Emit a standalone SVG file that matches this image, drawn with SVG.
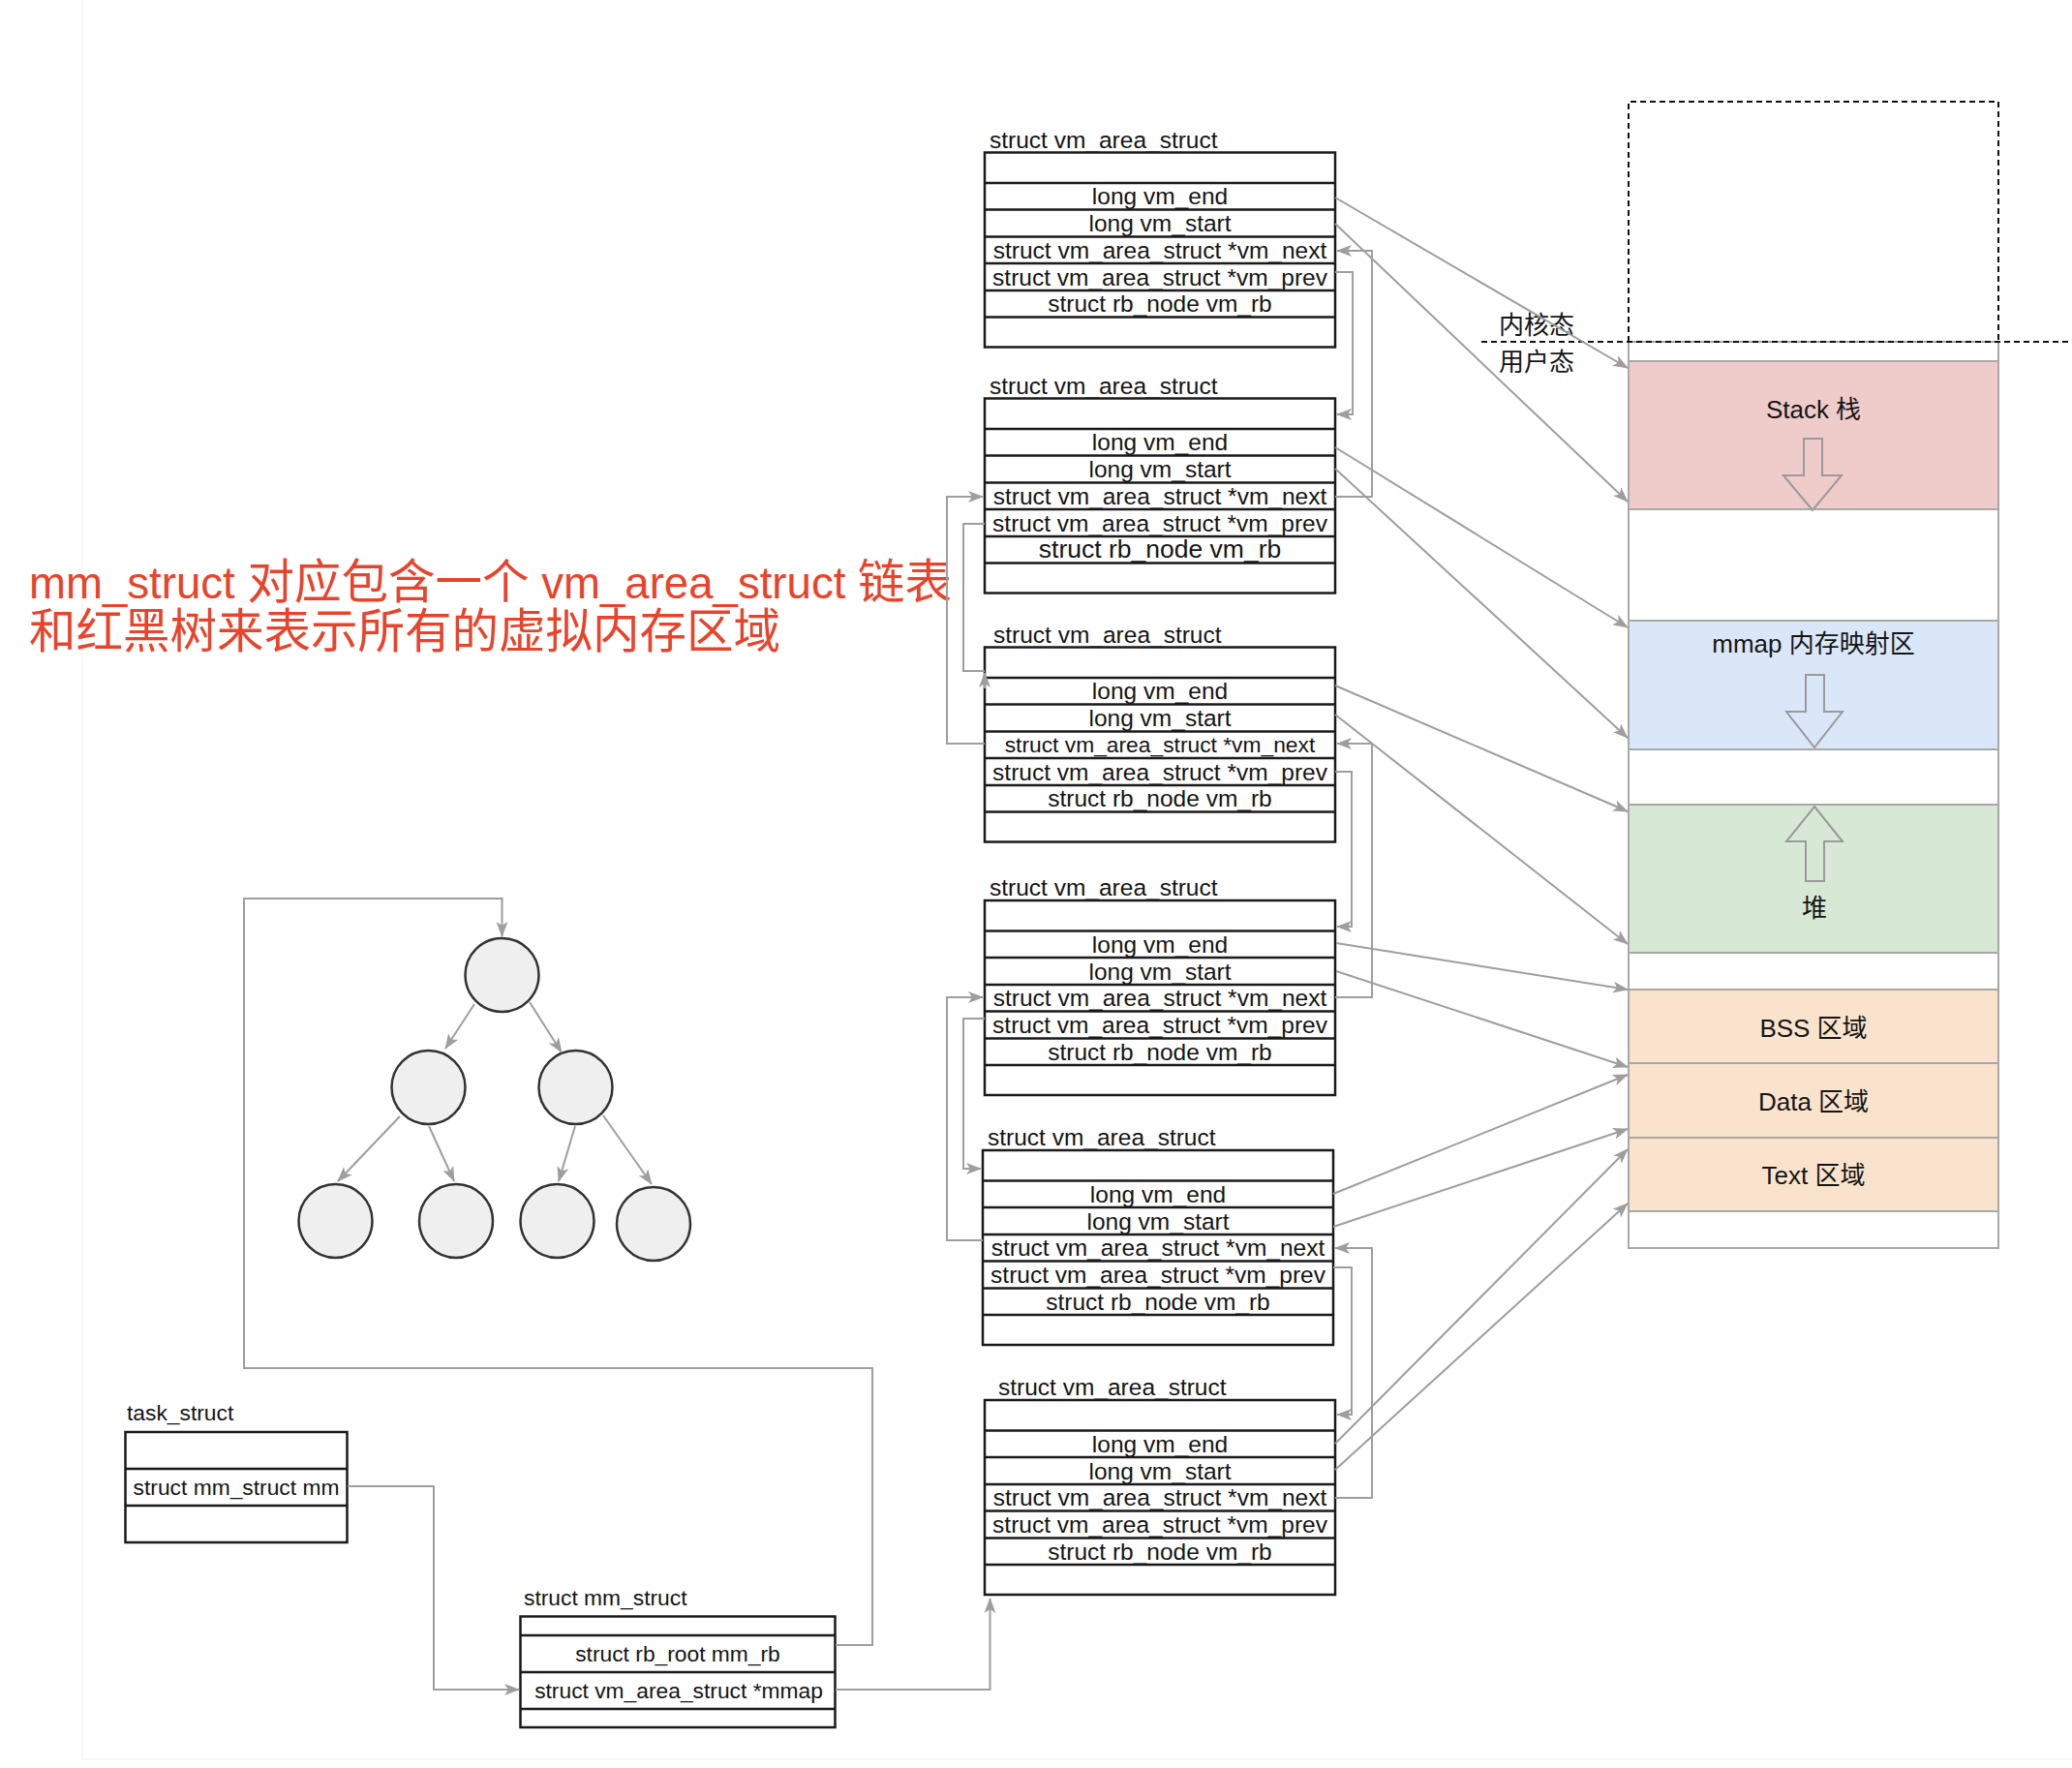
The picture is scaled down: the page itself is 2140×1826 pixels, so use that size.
<svg xmlns="http://www.w3.org/2000/svg" width="2140" height="1826" viewBox="0 0 2140 1826">
<style>
text{font-family:"Liberation Sans",Arial,"Noto Sans CJK SC",sans-serif;fill:#151515}
.t{font-size:24.5px}
.r{font-size:24.5px;text-anchor:middle}
.s{font-size:22.8px}
.sm{font-size:22.8px;text-anchor:middle}
.lbl{font-size:26px;text-anchor:middle}
.cjk{font-size:26px}
.box{fill:#fff;stroke:#1a1a1a;stroke-width:2.5}
.sep{stroke:#1a1a1a;stroke-width:2.5;fill:none}
.conn{fill:none;stroke:#9e9e9e;stroke-width:2;marker-end:url(#arr)}
.node{fill:#efefef;stroke:#333;stroke-width:2.5}
.seg{stroke:#a8a8a8;stroke-width:2}
.harrow{stroke:#9a9a9a;stroke-width:2}
.red{font-size:48.5px;fill:#e9432b}
.lat{font-size:45.6px}
</style>
<defs>
<marker id="arr" viewBox="0 0 16 12" markerWidth="16" markerHeight="12" refX="15" refY="6" orient="auto" markerUnits="userSpaceOnUse">
<path d="M0,0 L16,6 L0,12 L4,6 Z" fill="#9e9e9e"/>
</marker>
</defs>
<rect width="2140" height="1826" fill="#fff"/>
<line x1="85" y1="0" x2="85" y2="1817" stroke="#f3f3f3" stroke-width="1.5"/>
<line x1="85" y1="1817" x2="2140" y2="1817" stroke="#f3f3f3" stroke-width="1.5"/>

<g id="caption">
<text class="red" x="30" y="618"><tspan class="lat">mm_struct </tspan>对应包含一个<tspan class="lat"> vm_area_struct </tspan>链表</text>
<text class="red" x="30" y="669">和红黑树来表示所有的虚拟内存区域</text>
</g>

<g id="memory-layout">
<rect x="1682" y="353" width="382" height="936" fill="#fff" stroke="#a8a8a8" stroke-width="2"/>
<g id="stack"><rect class="seg" x="1682" y="373" width="382" height="153" fill="#efcbca"/>
<text class="lbl" x="1873" y="432">Stack 栈</text>
<polygon class="harrow" fill="#efcbca" points="1863,453 1882,453 1882,491 1902,491 1872,527 1842,491 1863,491"/></g>
<g id="mmap"><rect class="seg" x="1682" y="641" width="382" height="133" fill="#dae7f9"/>
<text class="lbl" x="1873" y="674">mmap 内存映射区</text>
<polygon class="harrow" fill="#dae7f9" points="1865,697 1884,697 1884,735 1903,735 1874,772 1845,735 1865,735"/></g>
<g id="heap"><rect class="seg" x="1682" y="831" width="382" height="153" fill="#d7e8d5"/>
<polygon class="harrow" fill="#d7e8d5" points="1874,833 1903,869 1884,869 1884,910 1865,910 1865,869 1845,869"/>
<text class="lbl" x="1874" y="947">堆</text></g>
<g id="bss"><rect class="seg" x="1682" y="1022" width="382" height="76" fill="#fae3cd"/>
<text class="lbl" x="1873" y="1071">BSS 区域</text></g>
<g id="data"><rect class="seg" x="1682" y="1098" width="382" height="77" fill="#fae3cd"/>
<text class="lbl" x="1873" y="1147">Data 区域</text></g>
<g id="textseg"><rect class="seg" x="1682" y="1175" width="382" height="76" fill="#fae3cd"/>
<text class="lbl" x="1873" y="1223">Text 区域</text></g>
<g id="kernel">
<path d="M1682,353 V105 H2064 V353" fill="none" stroke="#111" stroke-width="2" stroke-dasharray="6,4"/>
<line x1="1530" y1="353" x2="2140" y2="353" stroke="#111" stroke-width="2" stroke-dasharray="6,4"/>
<text class="cjk" x="1548" y="345">内核态</text>
<text class="cjk" x="1548" y="383">用户态</text>
</g>
</g>

<g id="vma1">
<text class="t" x="1022" y="152.5">struct vm_area_struct</text>
<rect class="box" x="1017" y="157.5" width="362" height="201"/>
<path class="sep" d="M1017,189H1379M1017,216.5H1379M1017,244.5H1379M1017,272H1379M1017,300H1379M1017,327.5H1379"/>
<text class="r" x="1198" y="211">long vm_end</text>
<text class="r" x="1198" y="239">long vm_start</text>
<text class="r" x="1198" y="266.5">struct vm_area_struct *vm_next</text>
<text class="r" x="1198" y="294.5">struct vm_area_struct *vm_prev</text>
<text class="r" x="1198" y="322">struct rb_node vm_rb</text>
</g>
<g id="vma2">
<text class="t" x="1022" y="406.5">struct vm_area_struct</text>
<rect class="box" x="1017" y="411.5" width="362" height="201"/>
<path class="sep" d="M1017,443H1379M1017,470.5H1379M1017,498.5H1379M1017,526H1379M1017,554H1379M1017,581.5H1379"/>
<text class="r" x="1198" y="465">long vm_end</text>
<text class="r" x="1198" y="493">long vm_start</text>
<text class="r" x="1198" y="520.5">struct vm_area_struct *vm_next</text>
<text class="r" x="1198" y="548.5">struct vm_area_struct *vm_prev</text>
<text class="r" x="1198" y="576" style="font-size:26.5px">struct rb_node vm_rb</text>
</g>
<g id="vma3">
<text class="t" x="1026" y="663.5">struct vm_area_struct</text>
<rect class="box" x="1017" y="668.5" width="362" height="201"/>
<path class="sep" d="M1017,700H1379M1017,727.5H1379M1017,755.5H1379M1017,783H1379M1017,811H1379M1017,838.5H1379"/>
<text class="r" x="1198" y="722">long vm_end</text>
<text class="r" x="1198" y="750">long vm_start</text>
<text class="r" x="1198" y="777" style="font-size:22.8px">struct vm_area_struct *vm_next</text>
<text class="r" x="1198" y="805.5">struct vm_area_struct *vm_prev</text>
<text class="r" x="1198" y="833">struct rb_node vm_rb</text>
</g>
<g id="vma4">
<text class="t" x="1022" y="925">struct vm_area_struct</text>
<rect class="box" x="1017" y="930" width="362" height="201"/>
<path class="sep" d="M1017,961.5H1379M1017,989H1379M1017,1017H1379M1017,1044.5H1379M1017,1072.5H1379M1017,1100H1379"/>
<text class="r" x="1198" y="983.5">long vm_end</text>
<text class="r" x="1198" y="1011.5">long vm_start</text>
<text class="r" x="1198" y="1039">struct vm_area_struct *vm_next</text>
<text class="r" x="1198" y="1067">struct vm_area_struct *vm_prev</text>
<text class="r" x="1198" y="1094.5">struct rb_node vm_rb</text>
</g>
<g id="vma5">
<text class="t" x="1020" y="1183">struct vm_area_struct</text>
<rect class="box" x="1015" y="1188" width="362" height="201"/>
<path class="sep" d="M1015,1219.5H1377M1015,1247H1377M1015,1275H1377M1015,1302.5H1377M1015,1330.5H1377M1015,1358H1377"/>
<text class="r" x="1196" y="1241.5">long vm_end</text>
<text class="r" x="1196" y="1269.5">long vm_start</text>
<text class="r" x="1196" y="1297">struct vm_area_struct *vm_next</text>
<text class="r" x="1196" y="1325">struct vm_area_struct *vm_prev</text>
<text class="r" x="1196" y="1352.5">struct rb_node vm_rb</text>
</g>
<g id="vma6">
<text class="t" x="1031" y="1441">struct vm_area_struct</text>
<rect class="box" x="1017" y="1446" width="362" height="201"/>
<path class="sep" d="M1017,1477.5H1379M1017,1505H1379M1017,1533H1379M1017,1560.5H1379M1017,1588.5H1379M1017,1616H1379"/>
<text class="r" x="1198" y="1499.5">long vm_end</text>
<text class="r" x="1198" y="1527.5">long vm_start</text>
<text class="r" x="1198" y="1555">struct vm_area_struct *vm_next</text>
<text class="r" x="1198" y="1583">struct vm_area_struct *vm_prev</text>
<text class="r" x="1198" y="1610.5">struct rb_node vm_rb</text>
</g>

<g id="task_struct">
<text class="s" x="131" y="1467">task_struct</text>
<rect class="box" x="129.5" y="1479" width="229" height="114"/>
<path class="sep" d="M129.5,1517H358.5M129.5,1555H358.5"/>
<text class="sm" x="244" y="1544">struct mm_struct mm</text>
</g>
<g id="mm_struct">
<text class="s" x="541" y="1658">struct mm_struct</text>
<rect class="box" x="537.5" y="1669.5" width="325" height="114.5"/>
<path class="sep" d="M537.5,1689H862.5M537.5,1727H862.5M537.5,1765H862.5"/>
<text class="sm" x="700" y="1716">struct rb_root mm_rb</text>
<text class="sm" x="701" y="1754">struct vm_area_struct *mmap</text>
</g>

<g id="rbtree">
<circle id="rb-root" class="node" cx="518.5" cy="1007" r="38"/>
<circle id="rb-l" class="node" cx="442.5" cy="1123" r="38"/>
<circle id="rb-r" class="node" cx="594.5" cy="1123" r="38"/>
<circle id="rb-ll" class="node" cx="346.5" cy="1261" r="38"/>
<circle id="rb-lr" class="node" cx="471" cy="1261" r="38"/>
<circle id="rb-rl" class="node" cx="575.5" cy="1261" r="38"/>
<circle id="rb-rr" class="node" cx="675" cy="1264" r="38"/>
</g>

<g id="connectors">
<path class="conn" d="M490,1037 L460,1083"/>
<path class="conn" d="M547,1035 L580,1087"/>
<path class="conn" d="M413,1153 L349,1220"/>
<path class="conn" d="M443,1163 L469,1220"/>
<path class="conn" d="M594,1163 L577,1220"/>
<path class="conn" d="M623,1152 L673,1223"/>

<path class="conn" d="M863,1699 H901 V1413 H252 V928 H518.5 V967"/>
<path class="conn" d="M359,1535 H448 V1745 H536"/>
<path class="conn" d="M863,1745 H1022.5 V1651"/>

<path class="conn" d="M1379,204 L1681,380"/>
<path class="conn" d="M1379,231 L1681,518"/>
<path class="conn" d="M1379,462 L1681,648"/>
<path class="conn" d="M1379,484 L1681,762"/>
<path class="conn" d="M1379,708 L1681,838"/>
<path class="conn" d="M1379,738 L1681,975"/>
<path class="conn" d="M1380,974 L1681,1022"/>
<path class="conn" d="M1380,1003 L1681,1102"/>
<path class="conn" d="M1377,1233 L1681,1110"/>
<path class="conn" d="M1377,1267 L1681,1166"/>
<path class="conn" d="M1379,1491 L1681,1187"/>
<path class="conn" d="M1379,1518 L1681,1243"/>

<path class="conn" d="M1379,281 H1397 V428 H1381"/>
<path class="conn" d="M1379,513 H1417 V259 H1381"/>
<path class="conn" d="M1017,541 H995 V693 H1017 M1017,711 V695"/>
<path class="conn" d="M1017,768 H978 V513 H1015"/>
<path class="conn" d="M1379,797 H1396 V957 H1381"/>
<path class="conn" d="M1379,1030 H1417 V768 H1381"/>
<path class="conn" d="M1017,1052 H995 V1207 H1013"/>
<path class="conn" d="M1015,1281 H978 V1030 H1015"/>
<path class="conn" d="M1377,1309 H1396 V1461 H1381"/>
<path class="conn" d="M1379,1547 H1417 V1289 H1379"/>
</g>
</svg>
